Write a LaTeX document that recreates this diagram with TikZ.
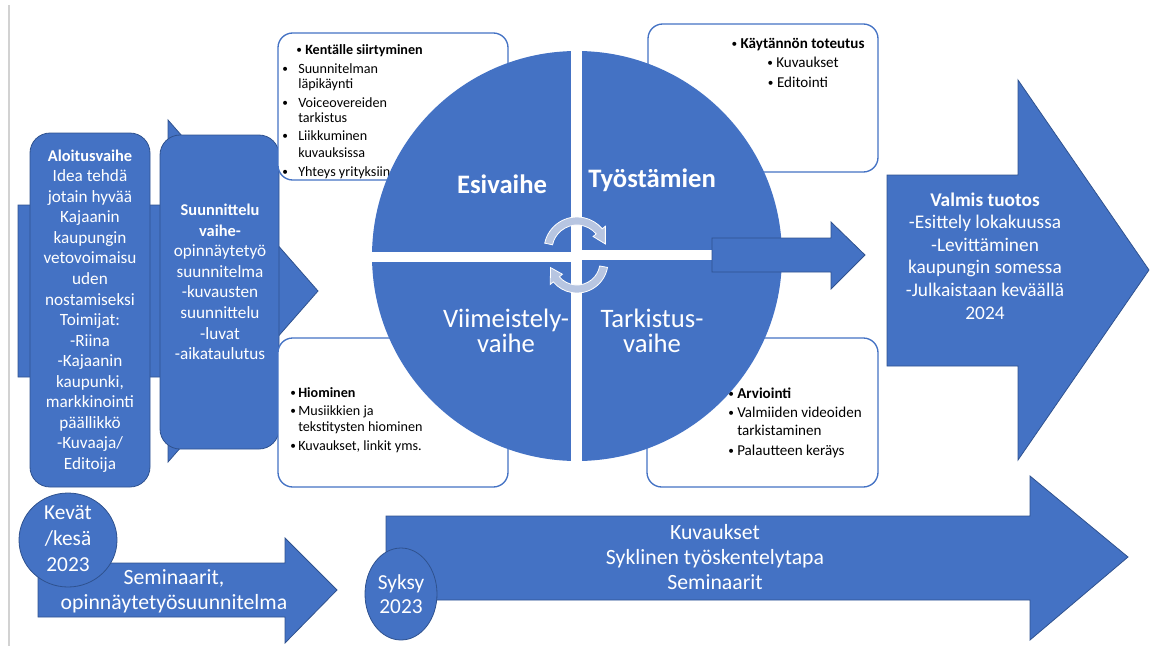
\documentclass[tikz,border=0pt]{standalone}
\usepackage{fontspec}
\setmainfont{Carlito}
\usetikzlibrary{calc}
\definecolor{officeblue}{HTML}{4472C4}
\definecolor{darkblue}{HTML}{2F528F}
\definecolor{cyclegrey}{RGB}{183,197,225}
\definecolor{railgrey}{RGB}{210,210,210}
% small list bullet
\newcommand{\bul}{\raisebox{0.7pt}{\fontsize{8.5}{8.5}\selectfont •}}
% bold heading line inside the phase boxes
\newcommand{\hd}[1]{{\fontsize{12.3}{15.4}\selectfont\bfseries #1}}

\begin{document}
\begin{tikzpicture}[x=0.75pt,y=-0.75pt,
  bluearrow/.style={fill=officeblue, draw=darkblue, line width=0.6pt, line join=miter},
  phasebox/.style={fill=officeblue, draw=darkblue, line width=0.6pt, rounded corners=15pt},
  notebox/.style={fill=white, draw=officeblue, line width=1pt, rounded corners=11pt},
  season/.style={fill=officeblue, draw=darkblue, line width=0.6pt},
  cyclearrow/.style={fill=cyclegrey, draw=white, line width=0.6pt},
  whitetxt/.style={text=white, inner sep=0pt, align=center},
  phasetxt/.style={whitetxt, font=\fontsize{12.9}{15.4}\selectfont},
  resulttxt/.style={whitetxt, font=\fontsize{14.5}{16.9}\selectfont},
  timetxt/.style={whitetxt, font=\fontsize{16.3}{18.6}\selectfont},
  quadtxt/.style={whitetxt, font=\fontsize{20}{18.8}\selectfont},
  noteL/.style={inner sep=0pt, anchor=base west, font=\fontsize{10.6}{12}\selectfont},
  noteR/.style={inner sep=0pt, anchor=base west, font=\fontsize{11.3}{13}\selectfont},
  noteC/.style={inner sep=0pt, anchor=base, font=\fontsize{11.3}{13}\selectfont}]

\useasboundingbox (0,0) rectangle (1153,646);

% page rule on the left
\coordinate (railTop) at (9,5);
\coordinate (railEnd) at (9,646);
\draw[railgrey, line width=1.1pt] (railTop) -- (railEnd);

% wide arrow behind the first two phases
\draw[bluearrow] (18,205) -- (168,205) -- (168,120) -- (318,291) -- (168,462)
  -- (168,377) -- (18,377) -- cycle;

% first two phase boxes
\draw[phasebox] (30,133) rectangle (150,487);
\node[phasetxt] (startTxt) at (90,311)
  {\hd{Aloitusvaihe}\\Idea tehdä\\jotain hyvää\\Kajaanin\\kaupungin\\vetovoimaisu\\uden\\nostamiseksi\\Toimijat:\\-Riina\\-Kajaanin\\kaupunki,\\markkinointi\\päällikkö\\-Kuvaaja/\\Editoija};

\draw[phasebox] (160,135) rectangle (279,449);
\node[phasetxt] (planTxt) at (220,282)
  {\hd{Suunnittelu}\\\hd{vaihe-}\\opinnäytetyö\\suunnitelma\\-kuvausten\\suunnittelu\\-luvat\\-aikataulutus};

% note boxes around the cycle
\draw[notebox] (278,33) rectangle (508,180);
\draw[notebox] (648,24) rectangle (878,172);
\draw[notebox] (278,338) rectangle (508,487);
\draw[notebox] (647,338) rectangle (878,487);

% notes: top left
\node[noteL] (tl0b) at (296,54) {\bul};
\node[noteL] (tl0) at (305,54) {\textbf{Kentälle siirtyminen}};
\node[noteL] (tl1b) at (282,73) {\bul};
\node[noteL] (tl1) at (298,73) {Suunnitelman};
\node[noteL] (tl1c) at (298,88) {läpikäynti};
\node[noteL] (tl2b) at (282,107) {\bul};
\node[noteL] (tl2) at (298,107) {Voiceovereiden};
\node[noteL] (tl2c) at (298,122) {tarkistus};
\node[noteL] (tl3b) at (282,140) {\bul};
\node[noteL] (tl3) at (298,140) {Liikkuminen};
\node[noteL] (tl3c) at (298,157) {kuvauksissa};
\node[noteL] (tl4b) at (282,176) {\bul};
\node[noteL] (tl4) at (298,176) {Yhteys yrityksiin};

% notes: top right
\node[noteC] (tr0) at (798,48) {\bul\ \textbf{Käytännön toteutus}};
\node[noteC] (tr1) at (803,67) {\bul\ Kuvaukset};
\node[noteC] (tr2) at (798,87) {\bul\ Editointi};

% notes: bottom left
\node[noteL] (bl0b) at (290,397) {\bul};
\node[noteL] (bl0) at (298,397) {\textbf{Hiominen}};
\node[noteL] (bl1b) at (290,415) {\bul};
\node[noteL] (bl1) at (298,415) {Musiikkien ja};
\node[noteL] (bl1c) at (298,431) {tekstitysten hiominen};
\node[noteL] (bl2b) at (290,450) {\bul};
\node[noteL] (bl2) at (298,450) {Kuvaukset, linkit yms.};

% notes: bottom right
\node[noteR] (br0b) at (728,398) {\bul};
\node[noteR] (br0) at (737,398) {\textbf{Arviointi}};
\node[noteR] (br1b) at (728,417) {\bul};
\node[noteR] (br1) at (737,417) {Valmiiden videoiden};
\node[noteR] (br1c) at (737,435) {tarkistaminen};
\node[noteR] (br2b) at (728,455) {\bul};
\node[noteR] (br2) at (737,455) {Palautteen keräys};

% the four-part cycle
\coordinate (hub) at (577,256);
\begin{scope}
  \clip (hub) circle[radius=205];
  \fill[officeblue] (360,40) rectangle (571,252);
  \fill[officeblue] (582,40) rectangle (800,250);
  \fill[officeblue] (360,262) rectangle (571,480);
  \fill[officeblue] (582,260) rectangle (800,480);
\end{scope}

\node[quadtxt] (preTxt) at (502,184) {\textbf{Esivaihe}};
\node[quadtxt] (workTxt) at (652,180) {\textbf{Työstämien}};
\node[quadtxt] (finTxt) at (506,331) {Viimeistely-\\vaihe};
\node[quadtxt] (checkTxt) at (652,331) {Tarkistus-\\vaihe};

% short arrow out of the cycle
\draw[bluearrow] (712,238) -- (831,238) -- (831,222) -- (865,255) -- (831,289)
  -- (831,272) -- (712,272) -- cycle;

% circular arrows at the hub
\coordinate (cycA) at (577,250);
\coordinate (cycB) at (577,262);
\draw[cyclearrow] ($(cycA)+(192:33)$) arc[start angle=192, end angle=320, radius=33]
  -- ($(cycA)+(320:37)$) -- ($(cycA)+(348:29)$) -- ($(cycA)+(320:21)$)
  -- ($(cycA)+(320:25)$) arc[start angle=320, end angle=192, radius=25] -- cycle;
\draw[cyclearrow] ($(cycB)+(10:31)$) arc[start angle=10, end angle=140, radius=31]
  -- ($(cycB)+(140:35)$) -- ($(cycB)+(168:27)$) -- ($(cycB)+(140:19)$)
  -- ($(cycB)+(140:23)$) arc[start angle=140, end angle=10, radius=23] -- cycle;

% finished product
\draw[bluearrow] (887,175) -- (1018,175) -- (1018,80) -- (1149,270) -- (1018,460)
  -- (1018,366) -- (887,366) -- cycle;
\node[resulttxt] (resultTxt) at (985,256)
  {\textbf{Valmis tuotos}\\-Esittely lokakuussa\\-Levittäminen\\kaupungin somessa\\-Julkaistaan keväällä\\2024};

% timeline: spring / summer
\draw[bluearrow] (38,563) -- (285,563) -- (285,538) -- (337,590) -- (285,643)
  -- (285,617) -- (38,617) -- cycle;
\node[timetxt] (springTxt) at (174,591) {Seminaarit,\\opinnäytetyösuunnitelma};
\draw[season] (68,540) ellipse[x radius=49, y radius=47];
\node[timetxt, font=\fontsize{16}{19.5}\selectfont] (springLbl) at (68,539) {Kevät\\/kesä\\2023};

% timeline: autumn
\draw[bluearrow] (386,516) -- (1030,516) -- (1030,476) -- (1128,557) -- (1030,640)
  -- (1030,600) -- (386,600) -- cycle;
\node[timetxt] (autumnTxt) at (715,557) {Kuvaukset\\Syklinen työskentelytapa\\Seminaarit};
\draw[season] (401,594) ellipse[x radius=36, y radius=46];
\node[timetxt, font=\fontsize{16}{18}\selectfont] (autumnLbl) at (401,594) {Syksy\\2023};

\end{tikzpicture}
\end{document}
